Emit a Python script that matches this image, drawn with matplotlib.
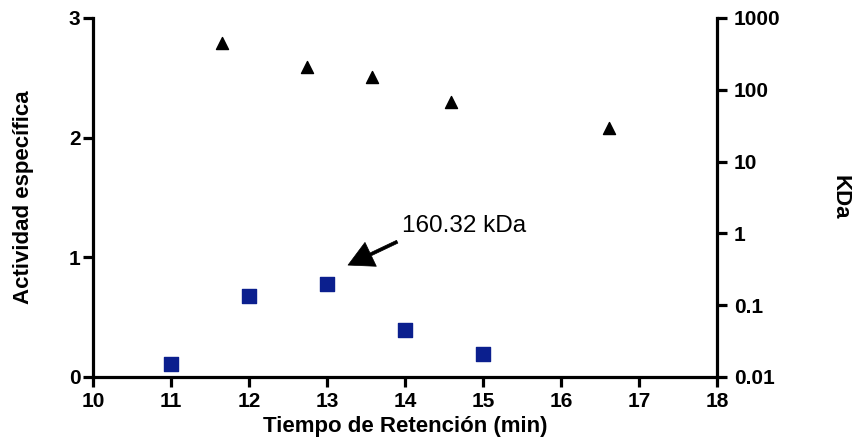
import matplotlib
matplotlib.use("Agg")
import matplotlib.pyplot as plt
from matplotlib import font_manager

# ---- data ----
act_time = [11, 12, 13, 14, 15]
act_values = [0.11, 0.68, 0.78, 0.39, 0.19]
std_time = [11.65, 12.74, 13.58, 14.59, 16.62]
std_kda = [445, 205, 150, 67, 29]
x_ticks = [10, 11, 12, 13, 14, 15, 16, 17, 18]
left_ticks = [0, 1, 2, 3]
right_ticks = [0.01, 0.1, 1, 10, 100, 1000]
right_ticklabels = ["0.01", "0.1", "1", "10", "100", "1000"]
annot_text = "160.32 kDa"
annot_tip = (13.27, 0.935)
annot_tail = (13.90, 1.13)
annot_pos = (13.96, 1.21)

names = {f.name for f in font_manager.fontManager.ttflist}
base = "Liberation Sans" if "Liberation Sans" in names else "DejaVu Sans"
plt.rcParams['font.family'] = [base, 'DejaVu Sans']

fig = plt.figure(figsize=(8.53, 4.43), dpi=100)
ax = fig.add_axes([0.109, 0.149, 0.7316, 0.8106])
ax2 = ax.twinx()

lw = 2.3
for a in (ax, ax2):
    for s in a.spines.values():
        s.set_linewidth(lw)
    a.spines['top'].set_visible(False)
ax.spines['right'].set_visible(False)
ax2.spines['left'].set_visible(False)
ax2.spines['bottom'].set_visible(False)

ax.scatter(act_time, act_values, marker='s', s=95, color='#0b1f8e', zorder=3, clip_on=False)
ax2.scatter(std_time, std_kda, marker='^', s=75, color='black', zorder=3, clip_on=False)

ax.set_xlim(10, 18)
ax.set_ylim(0, 3)
ax2.set_yscale('log')
ax2.set_ylim(0.01, 1000)

ax.set_xticks(x_ticks)
ax.set_yticks(left_ticks)
ax2.set_yticks(right_ticks)
ax2.set_yticklabels(right_ticklabels)
ax2.yaxis.set_minor_locator(matplotlib.ticker.NullLocator())

ax.tick_params(axis='x', width=lw, length=7, labelsize=15, pad=4)
ax.tick_params(axis='y', width=lw, length=7, labelsize=15, pad=2)
ax2.tick_params(axis='y', width=lw, length=7, labelsize=15, pad=5)
for lab in ax.get_xticklabels() + ax.get_yticklabels() + ax2.get_yticklabels():
    lab.set_fontweight('bold')

ax.set_xlabel("Tiempo de Retención (min)", fontsize=16, fontweight='bold', va='center')
ax.xaxis.set_label_coords(0.5, -0.137)
ax.set_ylabel("Actividad específica", fontsize=16, fontweight='bold', va='center')
ax.yaxis.set_label_coords(-0.111, 0.5)
ax2.set_ylabel("KDa", fontsize=16, fontweight='bold', rotation=270, va='center')
ax2.yaxis.set_label_coords(1.197, 0.5)

ax.text(annot_pos[0], annot_pos[1], annot_text, fontsize=17.5,
        ha='left', va='baseline')
ax.annotate('', xy=annot_tip, xytext=annot_tail,
            arrowprops=dict(width=2.2, headwidth=19, headlength=18,
                            facecolor='black', edgecolor='black', lw=0.5,
                            shrink=0.0))

fig.savefig("out.png", dpi=100)
